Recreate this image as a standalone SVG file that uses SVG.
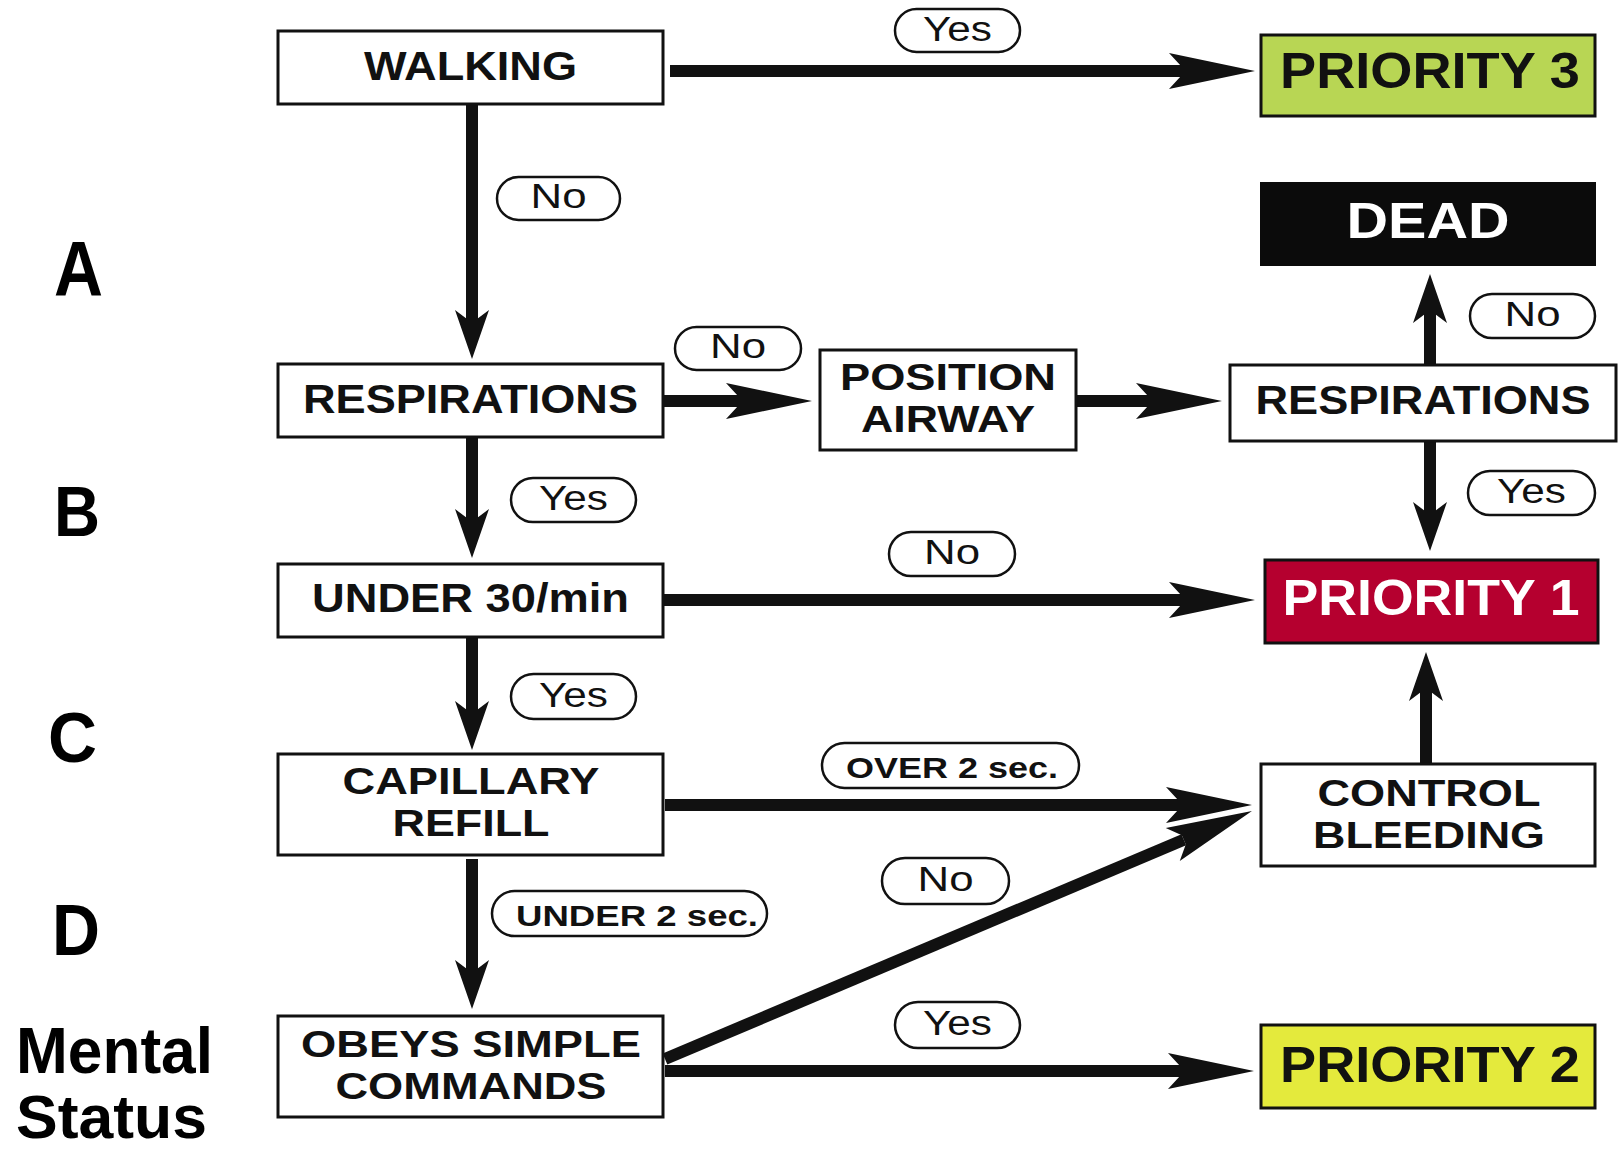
<svg xmlns="http://www.w3.org/2000/svg" width="1622" height="1152" viewBox="0 0 1622 1152">
  <style>
    .box { fill: #ffffff; stroke: #111111; stroke-width: 3; }
    .lbl { font-family: "Liberation Sans", Arial, sans-serif; font-weight: bold; font-size: 40px; fill: #111111; text-anchor: middle; }
    .two { font-size: 36px; }
    .big { font-size: 50px; }
    .pill { fill: #ffffff; stroke: #111111; stroke-width: 2.5; }
    .ptxt { font-family: "Liberation Sans", Arial, sans-serif; font-size: 35px; fill: #111111; text-anchor: middle; }
    .ptxtb { font-family: "Liberation Sans", Arial, sans-serif; font-weight: bold; font-size: 30px; fill: #111111; text-anchor: middle; }
    .side { font-family: "Liberation Sans", Arial, sans-serif; font-weight: bold; fill: #000000; }
    .wire { fill: none; stroke: #111111; stroke-width: 12; stroke-linecap: butt; }
  </style>
  <defs>
    <!-- long barbed head for horizontal / diagonal runs -->
    <marker id="headLong" markerUnits="userSpaceOnUse" viewBox="-90 -20 92 40" refX="-74" refY="0" markerWidth="92" markerHeight="40" orient="auto">
      <path d="M0,0 L-86,-18 L-74,-5 L-74,5 L-86,18 Z" fill="#111111"/>
    </marker>
    <!-- short barbed head for vertical runs -->
    <marker id="headShort" markerUnits="userSpaceOnUse" viewBox="-52 -20 54 40" refX="-40" refY="0" markerWidth="54" markerHeight="40" orient="auto">
      <path d="M0,0 L-49,-17 L-40,-5 L-40,5 L-49,17 Z" fill="#111111"/>
    </marker>
  </defs>

  <rect width="1622" height="1152" fill="#ffffff"/>

  <!-- side letters -->
  <g id="side-labels">
    <text class="side" x="54" y="296" font-size="78" textLength="49" lengthAdjust="spacingAndGlyphs">A</text>
    <text class="side" x="54" y="536" font-size="70" textLength="46" lengthAdjust="spacingAndGlyphs">B</text>
    <text class="side" x="48" y="762" font-size="70" textLength="49" lengthAdjust="spacingAndGlyphs">C</text>
    <text class="side" x="52" y="955" font-size="72" textLength="48" lengthAdjust="spacingAndGlyphs">D</text>
    <text class="side" x="16" y="1073" font-size="64" textLength="197" lengthAdjust="spacingAndGlyphs">Mental</text>
    <text class="side" x="16" y="1138" font-size="62" textLength="191" lengthAdjust="spacingAndGlyphs">Status</text>
  </g>

  <!-- connectors -->
  <g id="connectors">
    <path class="wire" d="M670,71 H1181" marker-end="url(#headLong)"/>
    <path class="wire" d="M472,104 V319" marker-end="url(#headShort)"/>
    <path class="wire" d="M663,401 H738" marker-end="url(#headLong)"/>
    <path class="wire" d="M1076,401 H1148" marker-end="url(#headLong)"/>
    <path class="wire" d="M1430,365 V314" marker-end="url(#headShort)"/>
    <path class="wire" d="M1430,441 V511" marker-end="url(#headShort)"/>
    <path class="wire" d="M472,437 V518" marker-end="url(#headShort)"/>
    <path class="wire" d="M663,600 H1181" marker-end="url(#headLong)"/>
    <path class="wire" d="M472,637 V710" marker-end="url(#headShort)"/>
    <path class="wire" d="M665,805 H1178" marker-end="url(#headLong)"/>
    <path class="wire" d="M472,859 V969" marker-end="url(#headShort)"/>
    <path class="wire" d="M665,1059 L1183.8,839.8" marker-end="url(#headLong)"/>
    <path class="wire" d="M665,1071 H1180" marker-end="url(#headLong)"/>
    <path class="wire" d="M1426,764 V692" marker-end="url(#headShort)"/>

    <!-- branch labels -->
    <g id="lbl-walk-yes"><rect class="pill" x="895" y="9" width="125" height="43" rx="21.5"/><text class="ptxt" x="957.5" y="41" textLength="69" lengthAdjust="spacingAndGlyphs">Yes</text></g>
    <g id="lbl-walk-no"><rect class="pill" x="497" y="177" width="123" height="43" rx="21.5"/><text class="ptxt" x="558.5" y="208" textLength="56" lengthAdjust="spacingAndGlyphs">No</text></g>
    <g id="lbl-resp-no"><rect class="pill" x="675" y="327" width="126" height="43" rx="21.5"/><text class="ptxt" x="738" y="358" textLength="56" lengthAdjust="spacingAndGlyphs">No</text></g>
    <g id="lbl-resp2-no"><rect class="pill" x="1470" y="294" width="125" height="44" rx="22"/><text class="ptxt" x="1532.5" y="326" textLength="56" lengthAdjust="spacingAndGlyphs">No</text></g>
    <g id="lbl-resp-yes"><rect class="pill" x="511" y="478" width="125" height="44" rx="22"/><text class="ptxt" x="573.5" y="510" textLength="69" lengthAdjust="spacingAndGlyphs">Yes</text></g>
    <g id="lbl-rate-no"><rect class="pill" x="889" y="532" width="126" height="44" rx="22"/><text class="ptxt" x="952" y="564" textLength="56" lengthAdjust="spacingAndGlyphs">No</text></g>
    <g id="lbl-resp2-yes"><rect class="pill" x="1468" y="471" width="127" height="44" rx="22"/><text class="ptxt" x="1531.5" y="503" textLength="69" lengthAdjust="spacingAndGlyphs">Yes</text></g>
    <g id="lbl-rate-yes"><rect class="pill" x="511" y="674" width="125" height="45" rx="22.5"/><text class="ptxt" x="573.5" y="707" textLength="69" lengthAdjust="spacingAndGlyphs">Yes</text></g>
    <g id="lbl-over"><rect class="pill" x="822" y="743" width="257" height="45" rx="22.5"/><text class="ptxtb" x="952" y="778" textLength="212" lengthAdjust="spacingAndGlyphs">OVER 2 sec.</text></g>
    <g id="lbl-under"><rect class="pill" x="492" y="891" width="275" height="45" rx="22.5"/><text class="ptxtb" x="637" y="926" textLength="242" lengthAdjust="spacingAndGlyphs">UNDER 2 sec.</text></g>
    <g id="lbl-obey-no"><rect class="pill" x="882" y="858" width="127" height="46" rx="23"/><text class="ptxt" x="945.5" y="891" textLength="56" lengthAdjust="spacingAndGlyphs">No</text></g>
    <g id="lbl-obey-yes"><rect class="pill" x="895" y="1002" width="125" height="46" rx="23"/><text class="ptxt" x="957.5" y="1035" textLength="69" lengthAdjust="spacingAndGlyphs">Yes</text></g>
  </g>

  <!-- nodes -->
  <g id="walking">
    <rect class="box" x="278" y="31" width="385" height="73"/>
    <text class="lbl" x="470.5" y="80" textLength="213" lengthAdjust="spacingAndGlyphs">WALKING</text>
  </g>
  <g id="priority3">
    <rect class="box" x="1261" y="35" width="334" height="81" style="fill:#b8d654"/>
    <text class="lbl big" x="1430" y="88" textLength="300" lengthAdjust="spacingAndGlyphs">PRIORITY 3</text>
  </g>
  <g id="dead">
    <rect x="1260" y="182" width="336" height="84" fill="#0b0b0b"/>
    <text class="lbl big" x="1428" y="238" textLength="163" lengthAdjust="spacingAndGlyphs" style="fill:#ffffff">DEAD</text>
  </g>
  <g id="respirations">
    <rect class="box" x="278" y="364" width="385" height="73"/>
    <text class="lbl" x="470.5" y="413" textLength="335" lengthAdjust="spacingAndGlyphs">RESPIRATIONS</text>
  </g>
  <g id="position-airway">
    <rect class="box" x="820" y="350" width="256" height="100"/>
    <text class="lbl two" x="948" y="390" textLength="216" lengthAdjust="spacingAndGlyphs">POSITION</text>
    <text class="lbl two" x="948" y="432" textLength="174" lengthAdjust="spacingAndGlyphs">AIRWAY</text>
  </g>
  <g id="respirations-recheck">
    <rect class="box" x="1230" y="365" width="386" height="76"/>
    <text class="lbl" x="1423" y="414" textLength="335" lengthAdjust="spacingAndGlyphs">RESPIRATIONS</text>
  </g>
  <g id="under30">
    <rect class="box" x="278" y="564" width="385" height="73"/>
    <text class="lbl" x="470.5" y="612" textLength="317" lengthAdjust="spacingAndGlyphs">UNDER 30/min</text>
  </g>
  <g id="priority1">
    <rect class="box" x="1265" y="560" width="333" height="83" style="fill:#b5002f"/>
    <text class="lbl big" x="1431" y="615" textLength="297" lengthAdjust="spacingAndGlyphs" style="fill:#ffffff">PRIORITY 1</text>
  </g>
  <g id="capillary-refill">
    <rect class="box" x="278" y="754" width="385" height="101"/>
    <text class="lbl two" x="471" y="794" textLength="257" lengthAdjust="spacingAndGlyphs">CAPILLARY</text>
    <text class="lbl two" x="471" y="836" textLength="157" lengthAdjust="spacingAndGlyphs">REFILL</text>
  </g>
  <g id="control-bleeding">
    <rect class="box" x="1261" y="764" width="334" height="102"/>
    <text class="lbl two" x="1429" y="806" textLength="223" lengthAdjust="spacingAndGlyphs">CONTROL</text>
    <text class="lbl two" x="1429" y="848" textLength="232" lengthAdjust="spacingAndGlyphs">BLEEDING</text>
  </g>
  <g id="obeys-commands">
    <rect class="box" x="278" y="1016" width="385" height="101"/>
    <text class="lbl two" x="471" y="1057" textLength="340" lengthAdjust="spacingAndGlyphs">OBEYS SIMPLE</text>
    <text class="lbl two" x="471" y="1099" textLength="271" lengthAdjust="spacingAndGlyphs">COMMANDS</text>
  </g>
  <g id="priority2">
    <rect class="box" x="1261" y="1025" width="334" height="83" style="fill:#e4ea3c"/>
    <text class="lbl big" x="1430" y="1082" textLength="300" lengthAdjust="spacingAndGlyphs">PRIORITY 2</text>
  </g>
</svg>
